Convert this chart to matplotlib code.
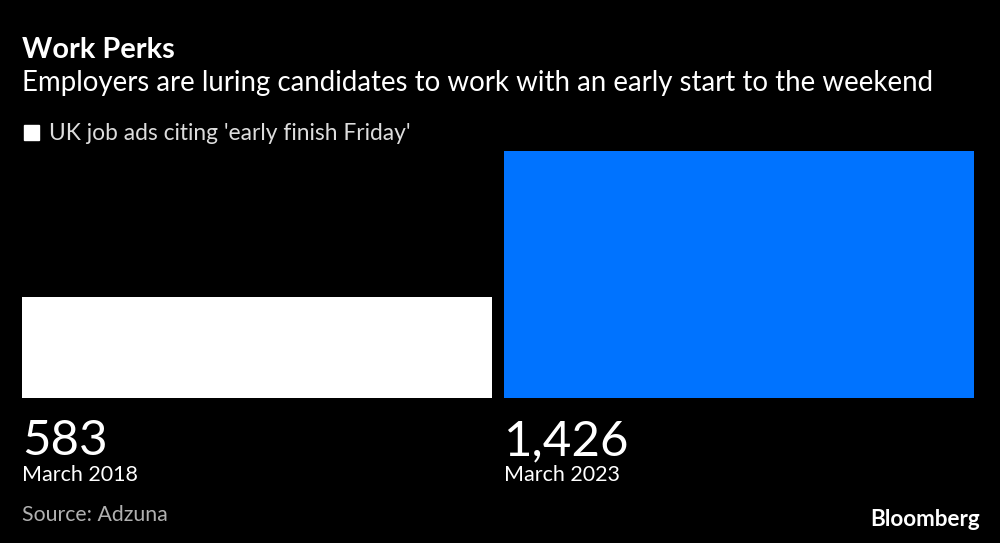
import numpy as np
import matplotlib.pyplot as plt
from matplotlib.transforms import blended_transform_factory

# Data
periods = ["March 2018", "March 2023"]
ads = [583, 1426]
bar_colors = ["#ffffff", "#0073ff"]

title = "Work Perks"
subtitle = "Employers are luring candidates to work with an early start to the weekend"
legend_label = "UK job ads citing 'early finish Friday'"

plt.rcParams['font.family'] = ['Lato', 'DejaVu Sans']

W, H = 1000, 543
fig = plt.figure(figsize=(W / 100, H / 100), dpi=100)
fig.patch.set_facecolor("black")

def fx(px):
    return px / W

def fy(py):
    return 1 - py / H

# Axes spanning bar area
ax = fig.add_axes([fx(22), fy(398), fx(974) - fx(22), (398 - 151) / H])
ax.set_facecolor("black")
x = np.arange(len(ads))
bw = 0.975
ax.bar(x - 0.5, ads, width=bw, align='edge', color=bar_colors, edgecolor='none')
ax.set_xlim(-0.5, len(ads) - 0.5 - (1 - bw))
ax.set_ylim(0, max(ads))
ax.set_xticks([])
ax.set_yticks([])
for s in ax.spines.values():
    s.set_visible(False)

# Value and period labels under each bar
tr = blended_transform_factory(ax.transData, fig.transFigure)
for i, (p, v) in enumerate(zip(periods, ads)):
    ax.text(i - 0.5, fy(455), f"{v:,}", transform=tr, color="white",
            fontsize=35.5, ha='left', va='baseline')
    ax.text(i - 0.5, fy(481), p, transform=tr, color="white",
            fontsize=15.5, ha='left', va='baseline')

# Titles
fig.text(fx(22), fy(58), title, color="white", fontsize=20.8, fontweight='bold',
         ha='left', va='baseline')
fig.text(fx(22), fy(91), subtitle, color="white", fontsize=19.9,
         ha='left', va='baseline')

# Legend
fig.patches.append(plt.Rectangle((fx(24), fy(140)), fx(15), 15 / H,
                                 transform=fig.transFigure, color="white"))
fig.text(fx(49), fy(140), legend_label, color="#dddddd", fontsize=16.4,
         ha='left', va='baseline')

# Footer
fig.text(fx(22), fy(521), "Source: Adzuna", color="#b0b0b0", fontsize=15.3,
         ha='left', va='baseline')
fig.text(fx(980), fy(526), "Bloomberg", color="white", fontsize=16.2,
         fontweight='bold', ha='right', va='baseline')

fig.savefig("out.png", dpi=100, facecolor="black")
